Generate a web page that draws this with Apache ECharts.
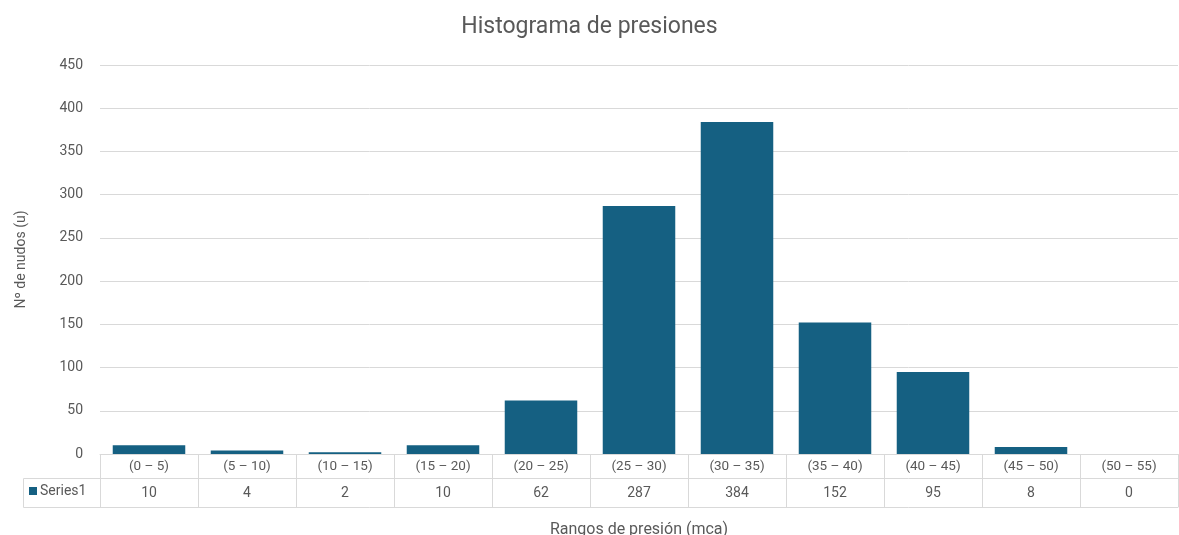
<!DOCTYPE html>
<html>
<head>
<meta charset="utf-8">
<script src="https://cdn.jsdelivr.net/npm/echarts@6/dist/echarts.min.js"></script>
<style>
html,body{margin:0;padding:0;background:#fff;}
#chart{width:1179px;height:535px;}
</style>
</head>
<body>
<div id="chart"></div>
<script>
const categories = ['(0 – 5)', '(5 – 10)', '(10 – 15)', '(15 – 20)', '(20 – 25)', '(25 – 30)', '(30 – 35)', '(35 – 40)', '(40 – 45)', '(45 – 50)', '(50 – 55)'];
const values = [10, 4, 2, 10, 62, 287, 384, 152, 95, 8, 0];
const seriesName = 'Series1';
const yTicks = { min: 0, max: 450, interval: 50 };

const FONT = 'Roboto, "Liberation Sans", sans-serif';
const TXT = '#595959';
const LINE = '#d9d9d9';
const BAR = '#156082';

const chart = echarts.init(document.getElementById('chart'));
chart.setOption({
  animation: false,
  textStyle: { fontFamily: FONT },
  title: {
    text: 'Histograma de presiones',
    left: 'center', top: 11,
    textStyle: { fontFamily: FONT, fontSize: 23, fontWeight: 'normal', color: TXT }
  },
  legend: {
    data: [seriesName],
    left: 24, top: 479,
    icon: 'rect', itemWidth: 8, itemHeight: 8, itemGap: 4,
    textStyle: { fontFamily: FONT, fontSize: 14, color: TXT, padding: [0, 0, 0, -2] }
  },
  grid: { left: 100, right: 1, top: 65, bottom: 81, containLabel: false, outerBoundsMode: 'none' },
  xAxis: [
    {
      type: 'category', data: categories, position: 'bottom',
      axisLine: { show: true, lineStyle: { color: LINE } },
      axisTick: { show: true, interval: 0, length: 24, lineStyle: { color: LINE } },
      axisLabel: { interval: 0, margin: 6, color: TXT, fontSize: 13.5, fontFamily: FONT }
    },
    {
      type: 'category', data: values.map(String), position: 'bottom', offset: 24,
      axisLine: { show: true, lineStyle: { color: LINE } },
      axisTick: { show: true, interval: 0, length: 29, lineStyle: { color: LINE } },
      axisLabel: { interval: 0, margin: 8, color: TXT, fontSize: 14, fontFamily: FONT }
    },
    {
      type: 'category', data: categories, position: 'bottom', offset: 53,
      axisLine: { show: true, lineStyle: { color: LINE } },
      axisTick: { show: false },
      axisLabel: { show: false },
      name: 'Rangos de presión (mca)', nameLocation: 'middle', nameGap: 15,
      nameTextStyle: { color: TXT, fontSize: 16, fontFamily: FONT }
    }
  ],
  yAxis: {
    type: 'value', min: yTicks.min, max: yTicks.max, interval: yTicks.interval,
    axisLine: { show: false }, axisTick: { show: false },
    axisLabel: { color: TXT, fontSize: 14, margin: 17, fontFamily: FONT },
    splitLine: { lineStyle: { color: LINE } },
    name: 'Nº de nudos (u)', nameLocation: 'middle', nameGap: 72, nameRotate: 90,
    nameTextStyle: { color: TXT, fontSize: 14, fontFamily: FONT }
  },
  graphic: [
    { type: 'polyline', shape: { points: [[100, 478.5], [23.5, 478.5], [23.5, 507.5], [100, 507.5]] },
      style: { stroke: LINE, fill: null, lineWidth: 1 }, silent: true }
  ],
  series: [{
    name: seriesName, type: 'bar', data: values, xAxisIndex: 0,
    barCategoryGap: '26%',
    itemStyle: { color: BAR }
  }]
});
</script>
</body>
</html>
